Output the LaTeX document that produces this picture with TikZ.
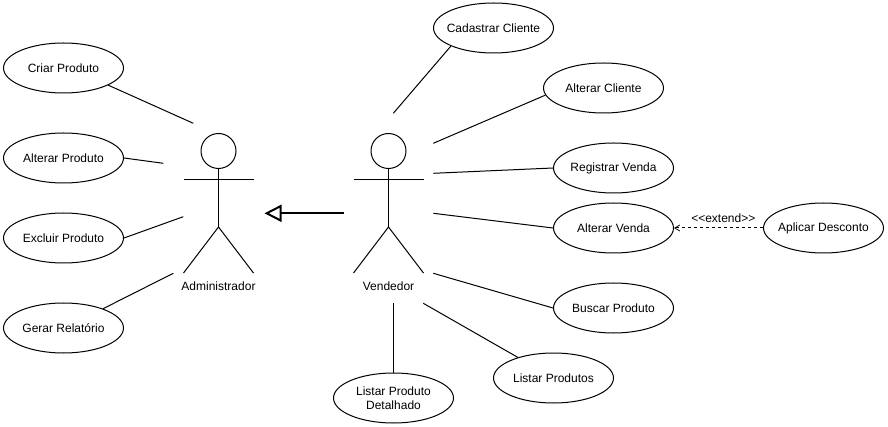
\documentclass[tikz,border=0pt]{standalone}
\usepackage{fontspec}
\setmainfont{Liberation Sans}
\usetikzlibrary{shapes.geometric,arrows.meta}
\newcommand{\uctext}[1]{\makebox[10pt][c]{#1}}
\tikzset{
  usecase/.style={draw,ellipse,minimum width=120pt,minimum height=50pt,inner sep=0pt,align=center,font=\fontsize{12}{14}\selectfont,line width=1pt},
  assoc/.style={line width=1pt},
  limb/.style={line width=1pt},
  actorhead/.style={draw,circle,minimum size=35pt,inner sep=0pt,line width=1pt},
  lbl/.style={font=\fontsize{12}{14}\selectfont,inner sep=0pt}
}
\begin{document}
\begin{tikzpicture}[x=1pt,y=-1pt]
\useasboundingbox (0,0) rectangle (888,427);
\node[usecase] (criar) at (63.5,68) {\uctext{Criar Produto}};
\node[usecase] (altp) at (63.5,158) {\uctext{Alterar Produto}};
\node[usecase] (excl) at (63.5,238) {\uctext{Excluir Produto}};
\node[usecase] (gerar) at (63.5,328) {\uctext{Gerar Relatório}};
\node[usecase] (cad) at (493.5,28) {\uctext{Cadastrar Cliente}};
\node[usecase] (altc) at (603.5,88) {\uctext{Alterar Cliente}};
\node[usecase] (reg) at (613.5,168) {\uctext{Registrar Venda}};
\node[usecase] (altv) at (613.5,228) {\uctext{Alterar Venda}};
\node[usecase] (apl) at (823.5,228) {\uctext{Aplicar Desconto}};
\node[usecase] (busc) at (613.5,308) {\uctext{Buscar Produto}};
\node[usecase] (listp) at (553.5,378) {\uctext{Listar Produtos}};
\node[usecase] (listd) at (393.5,398) {\uctext{Listar Produto}\\\uctext{Detalhado}};
% actors
\node[actorhead] (hA) at (218.5,151) {};
\coordinate (hipA) at (218.5,227);
\coordinate (armLA) at (183.5,180);
\coordinate (armRA) at (253.5,180);
\coordinate (legLA) at (183.5,273);
\coordinate (legRA) at (253.5,273);
\draw[limb] (hA) -- (hipA);
\draw[limb] (armLA) -- (armRA);
\draw[limb] (legLA) -- (hipA) -- (legRA);
\node[lbl] (admin) at (218.5,286) {Administrador};
\node[actorhead] (hV) at (388.5,151) {};
\coordinate (hipV) at (388.5,227);
\coordinate (armLV) at (353.5,180);
\coordinate (armRV) at (423.5,180);
\coordinate (legLV) at (353.5,273);
\coordinate (legRV) at (423.5,273);
\draw[limb] (hV) -- (hipV);
\draw[limb] (armLV) -- (armRV);
\draw[limb] (legLV) -- (hipV) -- (legRV);
\node[lbl] (vend) at (388.5,286) {Vendedor};
% free ends
\coordinate (e1) at (193.3,123.3);
\coordinate (e2) at (163.3,163.3);
\coordinate (e3) at (183.3,216.7);
\coordinate (e4) at (173.3,273.3);
\coordinate (e5) at (393.3,113.3);
\coordinate (e6) at (433.3,143.3);
\coordinate (e7) at (433.3,173.3);
\coordinate (e8) at (433.3,213.3);
\coordinate (e9) at (433.3,273.3);
\coordinate (e10) at (423.3,303.3);
\coordinate (e11) at (393.5,303.3);
\coordinate (gs) at (343.5,213.3);
\coordinate (gt) at (264.5,213.3);
\draw[assoc] (criar.-21.5) -- (e1);
\draw[assoc] (altp.east) -- (e2);
\draw[assoc] (excl.east) -- (e3);
\draw[assoc] (gerar.26.4) -- (e4);
\draw[assoc] (cad.203.6) -- (e5);
\draw[assoc] (altc.187) -- (e6);
\draw[assoc] (reg.west) -- (e7);
\draw[assoc] (altv.west) -- (e8);
\draw[assoc] (busc.west) -- (e9);
\draw[assoc] (listp.150.4) -- (e10);
\draw[assoc] (listd.north) -- (e11);
\draw[line width=2pt,-{Triangle[open,length=17pt,width=17pt,line width=2pt]}] (gs) -- (gt);
\draw[line width=1pt,dash pattern=on 3pt off 3pt,-{Straight Barb[length=5pt,width=6pt,line width=0.8pt]}] (apl.west) -- (altv.east);
\node[lbl] (ext) at (723.3,218) {<{}<extend>{}>};
\end{tikzpicture}
\end{document}
